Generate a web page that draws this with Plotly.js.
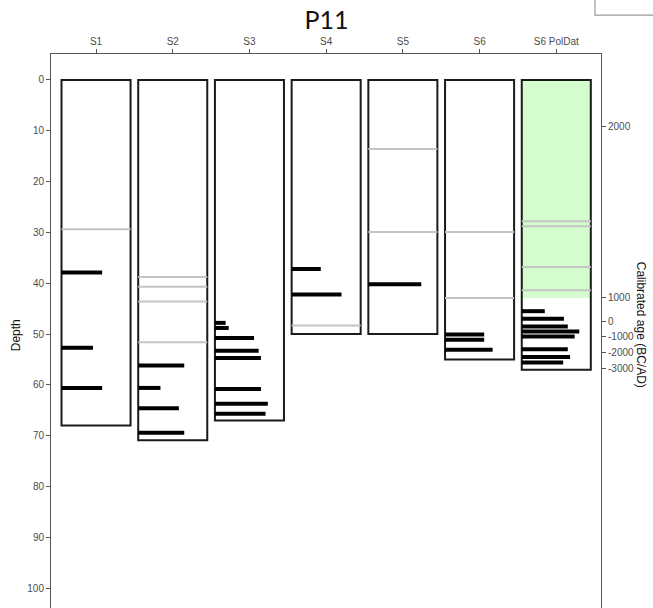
<!DOCTYPE html>
<html>
<head>
<meta charset="utf-8">
<script src="https://cdn.plot.ly/plotly-3.0.1.min.js"></script>
<style>html,body{margin:0;padding:0;background:#fff;}#chart{width:653px;height:608px;}</style>
</head>
<body>
<div id="chart"></div>
<script>
// ---- data ----
const sections = ['S1', 'S2', 'S3', 'S4', 'S5', 'S6', 'S6 PolDat'];
const sectionBottom = [68.0, 70.9, 67.0, 50.0, 50.0, 55.0, 57.0];
const polDatIndex = 6;
const polDatBottom = 42.9;
const grayDepths = [
  [29.4],
  [38.8, 40.7, 43.6, 51.6],
  [],
  [48.3],
  [13.6, 29.9],
  [29.9, 42.9],
  [27.8, 28.8, 36.8, 41.4]
];
const barDepths = [
  [37.9, 52.7, 60.6],
  [56.2, 60.6, 64.6, 69.4],
  [47.8, 48.8, 50.8, 53.3, 54.7, 60.8, 63.7, 65.7],
  [37.2, 42.2],
  [40.2],
  [50.1, 51.1, 53.1],
  [45.5, 47.0, 48.5, 49.5, 50.5, 53.0, 54.5, 55.6]
];
const barLengths = [
  [0.53, 0.41, 0.53],
  [0.60, 0.29, 0.53, 0.60],
  [0.14, 0.18, 0.51, 0.57, 0.60, 0.60, 0.69, 0.66],
  [0.38, 0.65],
  [0.69],
  [0.51, 0.51, 0.62],
  [0.30, 0.55, 0.60, 0.75, 0.69, 0.60, 0.63, 0.54]
];
const depthTicks = [0, 10, 20, 30, 40, 50, 60, 70, 80, 90, 100];
const ageTicks = [2000, 1000, 0, -1000, -2000, -3000];
const ageTickDepths = [9.2, 42.8, 47.6, 50.5, 53.7, 56.8];

// ---- build ----
const idx = sections.map((s, i) => i);
const halfW = 0.45;
const yRange = [103.9, -5.1];

const traces = [];
// green pollen-dated zone
traces.push({
  type: 'bar', x: [polDatIndex], y: [polDatBottom], base: [0], width: [2 * halfW],
  marker: {color: '#d4fccc', line: {width: 0}}, hoverinfo: 'skip', showlegend: false
});
// gray lines
const gx = [], gy = [];
grayDepths.forEach((arr, i) => arr.forEach(d => { gx.push(i - halfW, i + halfW, null); gy.push(d, d, null); }));
traces.push({type: 'scatter', mode: 'lines', x: gx, y: gy, line: {color: '#c4c4c4', width: 2}, hoverinfo: 'skip', showlegend: false});
// black date bars
const bx = [], by = [];
barDepths.forEach((arr, i) => arr.forEach((d, j) => { bx.push(i - halfW, i - halfW + barLengths[i][j], null); by.push(d, d, null); }));
traces.push({type: 'scatter', mode: 'lines', x: bx, y: by, line: {color: '#000', width: 4}, hoverinfo: 'skip', showlegend: false});
// section outlines
traces.push({
  type: 'bar', x: idx, y: sectionBottom, base: idx.map(() => 0), width: idx.map(() => 2 * halfW),
  marker: {color: 'rgba(0,0,0,0)', line: {color: '#1a1a1a', width: 2}}, hoverinfo: 'skip', showlegend: false
});
// dummy trace for right axis
traces.push({type: 'scatter', mode: 'markers', x: [0], y: [0], yaxis: 'y2', marker: {opacity: 0}, hoverinfo: 'skip', showlegend: false});

const tickFont = {family: 'Liberation Sans, Arial, sans-serif', size: 10, color: '#4d4d4d'};
const layout = {
  width: 653, height: 608,
  margin: {l: 51, r: 52, t: 54, b: 0},
  paper_bgcolor: '#fff', plot_bgcolor: '#fff',
  barmode: 'overlay',
  showlegend: false,
  title: {text: 'P11', font: {family: 'Lato, Open Sans, sans-serif', size: 25, color: '#111'}, x: 0.5, xanchor: 'center', y: 0.966, yanchor: 'middle'},
  xaxis: {
    side: 'top', range: [-0.587, 6.583], tickvals: idx, ticktext: sections,
    showgrid: false, zeroline: false, showline: true, linecolor: '#555', linewidth: 1,
    ticks: 'outside', ticklen: 4, tickcolor: '#555', tickfont: tickFont, fixedrange: true
  },
  yaxis: {
    range: yRange, tickvals: depthTicks, showgrid: false, zeroline: false,
    showline: true, linecolor: '#555', linewidth: 1, ticks: 'outside', ticklen: 4, tickcolor: '#555',
    tickfont: tickFont, fixedrange: true
  },
  yaxis2: {
    overlaying: 'y', side: 'right', range: yRange, tickvals: ageTickDepths,
    ticktext: ageTicks.map(String), showgrid: false, zeroline: false,
    showline: true, linecolor: '#555', linewidth: 1, ticks: 'outside', ticklen: 4, tickcolor: '#555',
    tickfont: tickFont, fixedrange: true
  },
  annotations: [
    {text: 'Depth', xref: 'paper', yref: 'paper', x: -0.063, y: 0.493, xanchor: 'center', yanchor: 'middle',
     textangle: -90, showarrow: false, font: {family: 'Liberation Sans, Arial, sans-serif', size: 12, color: '#111'}},
    {text: 'Calibrated age (BC/AD)', xref: 'paper', yref: 'paper', x: 1.073, y: 0.511, xanchor: 'center', yanchor: 'middle',
     textangle: 90, showarrow: false, font: {family: 'Liberation Sans, Arial, sans-serif', size: 12, color: '#111'}}
  ],
  shapes: [
    {type: 'rect', xref: 'paper', yref: 'paper', x0: 0.989, x1: 1.2, y0: 1.07, y1: 1.2,
     line: {color: '#999', width: 1.2}, fillcolor: 'rgba(0,0,0,0)', layer: 'above'}
  ]
};
Plotly.newPlot('chart', traces, layout, {displayModeBar: false, staticPlot: true});
</script>
</body>
</html>
